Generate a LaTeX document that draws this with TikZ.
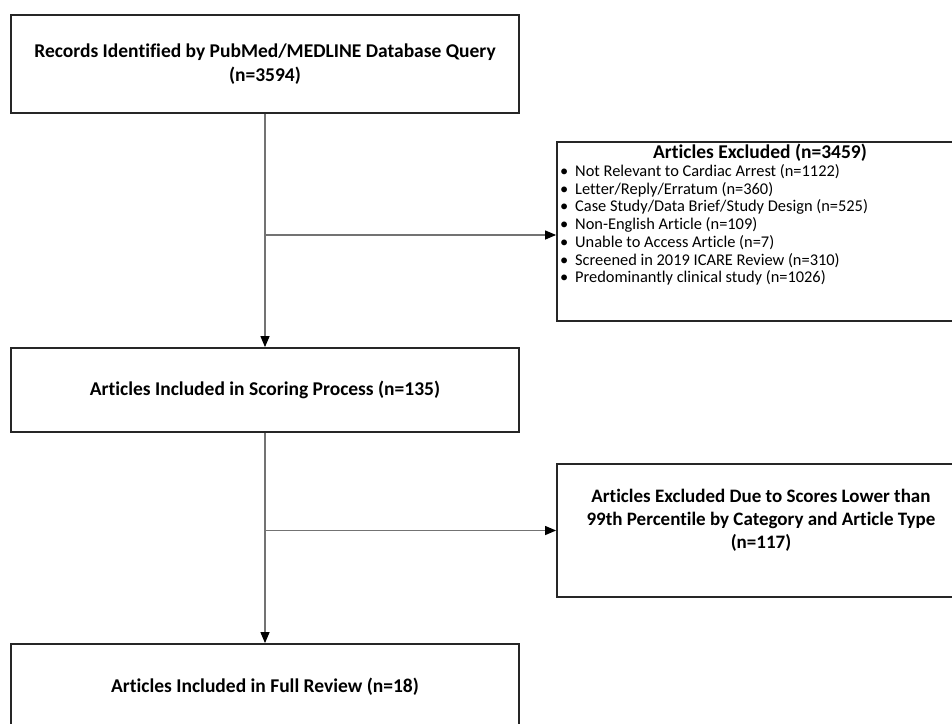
\documentclass[tikz,border=0pt]{standalone}
\usepackage{fontspec}
\setmainfont{Carlito}[Ligatures=NoCommon]
\usetikzlibrary{arrows.meta}
\tikzset{
  box/.style={draw=black!85,line width=1.8pt,fill=white,inner sep=0pt,align=center,
    font=\bfseries\fontsize{19.5}{23.5}\selectfont},
  link/.style={draw=black!55,line width=1.2pt},
  arr/.style={link,-{Triangle[length=11pt,width=9pt,color=black]}}
}

\begin{document}
\begin{tikzpicture}[x=1pt,y=-1pt]
	\clip (0,0) rectangle (952,723);
	\fill[white] (0,0) rectangle (952,723);
	% left column
	\node (rec) [box,minimum width=508pt,minimum height=98pt] at (265,64)
	  {Records Identified by PubMed/MEDLINE Database Query\\(n=3594)};
	\node (scored) [box,minimum width=508pt,minimum height=84pt] at (265,390)
	  {Articles Included in Scoring Process (n=135)};
	\node (full) [box,minimum width=508pt,minimum height=86pt] at (265,687)
	  {Articles Included in Full Review (n=18)};
	% right column
	\node (excl) [box,minimum width=408pt,minimum height=179pt] at (761,231.5) {};
	\node (excltitle) [font=\bfseries\fontsize{19.5}{23}\selectfont,inner sep=0pt] at (760,153)
	  {Articles Excluded (n=3459)};
	\foreach \t [count=\i] in {Not Relevant to Cardiac Arrest (n=1122),
	  Letter/Reply/Erratum (n=360),
	  Case Study/Data Brief/Study Design (n=525),
	  Non-English Article (n=109),
	  Unable to Access Article (n=7),
	  Screened in 2019 ICARE Review (n=310),
	  Predominantly clinical study (n=1026)}
	  \node (item\i) [anchor=base west,inner sep=0pt,font=\fontsize{16.4}{17.7}\selectfont]
	    at (560,176.5+17.7*\i-17.7) {\makebox[15pt][l]{\textbullet}\t};
	\node (lowscore) [box,minimum width=408pt,minimum height=133pt] at (761,530.5) {};
	\node (lowtext) [align=center,inner sep=0pt,font=\bfseries\fontsize{19}{23}\selectfont]
	  at (761,520) {Articles Excluded Due to Scores Lower than\\
	  99th Percentile by Category and Article Type\\(n=117)};
	% connectors
	\coordinate (fork1) at (265,235);
	\coordinate (fork2) at (265,530.5);
	\draw[arr] (rec) -- (scored);
	\draw[arr] (fork1) -- (fork1 -| excl.west);
	\draw[arr] (scored) -- (full);
	\draw[arr] (fork2) -- (lowscore.west);
\end{tikzpicture}
\end{document}
